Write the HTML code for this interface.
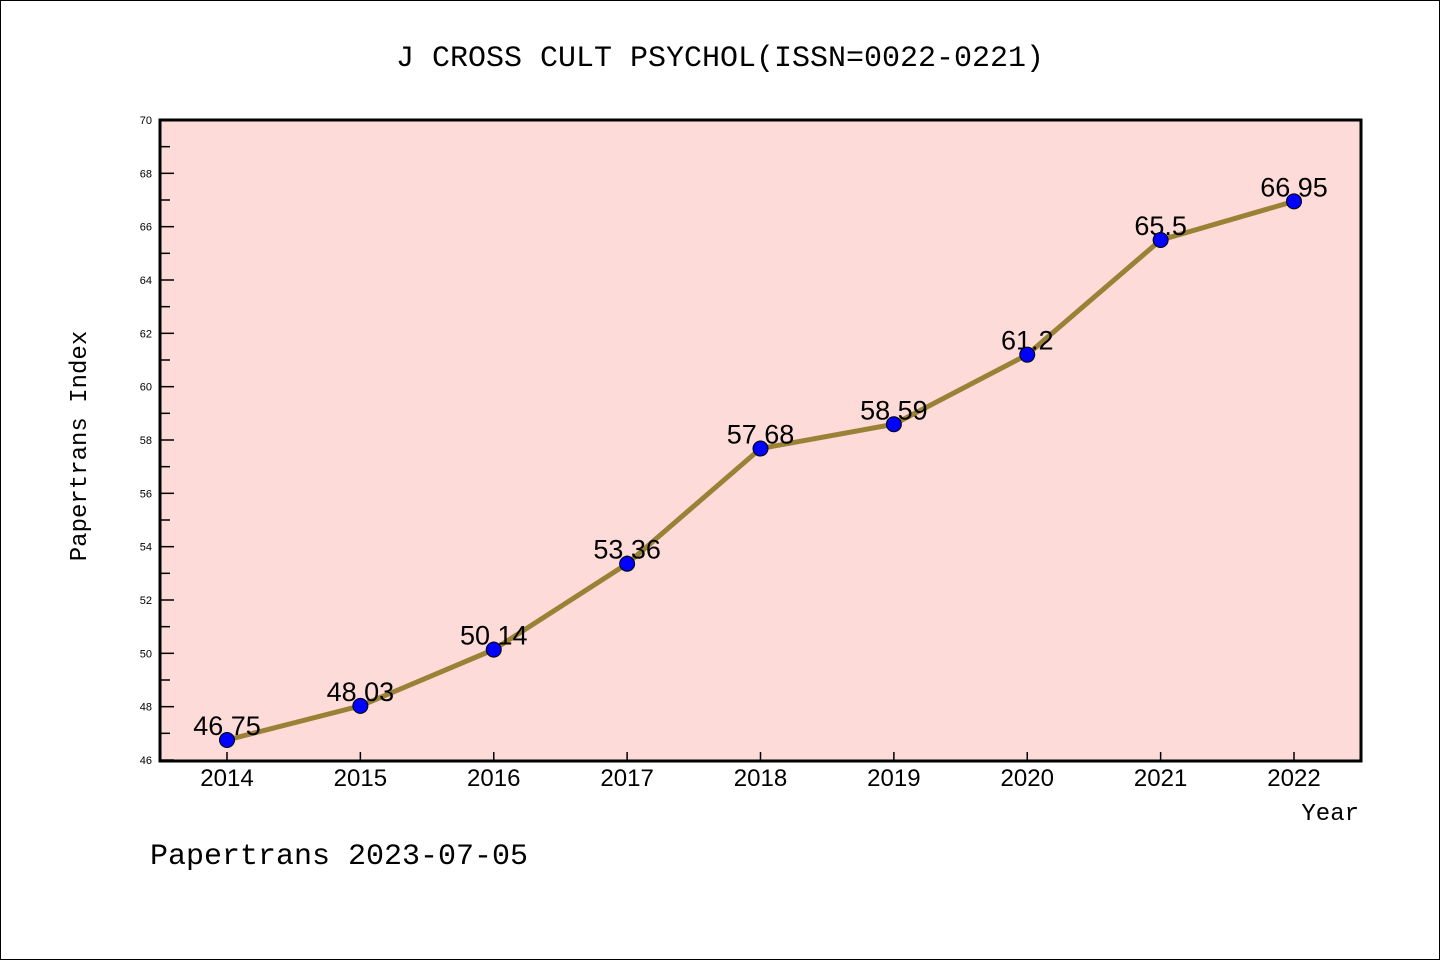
<!DOCTYPE html>
<html><head><meta charset="utf-8"><style>
html,body{margin:0;padding:0;background:#fff}
svg{display:block;font-family:"Liberation Mono","WenQuanYi Zen Hei",monospace}
</style></head><body>
<svg width="1440" height="960" xmlns="http://www.w3.org/2000/svg">
<rect x="0.5" y="0.5" width="1439" height="959" fill="#fff" stroke="#000"/>
<text x="720" y="66" font-size="30" text-anchor="middle">J CROSS CULT PSYCHOL(ISSN=0022-0221)</text>
<rect x="160" y="120" width="1201" height="641" fill="#fddbd8"/>
<g id="axes"></g>
<g id="series"></g>
<rect x="160" y="120" width="1201" height="641" fill="none" stroke="#000" stroke-width="3"/>
<text x="86" y="446" font-size="24" text-anchor="middle" transform="rotate(-90 86 446)">Papertrans Index</text>
<text x="1359" y="820" font-size="24" text-anchor="end">Year</text>
<text x="150" y="864" font-size="30">Papertrans 2023-07-05</text>
</svg>
<script>
const years = ["2014","2015","2016","2017","2018","2019","2020","2021","2022"];
const values = [46.75,48.03,50.14,53.36,57.68,58.59,61.2,65.5,66.95];
const labels = ["46.75","48.03","50.14","53.36","57.68","58.59","61.2","65.5","66.95"];
const yTicks = [46,48,50,52,54,56,58,60,62,64,66,68,70];
const NS="http://www.w3.org/2000/svg";
const x0=227,dx=(1294-227)/8;
function xs(i){return x0+i*dx;}
function ys(v){return 760-(v-46)*(640/24);}
function mk(t,a,p){const e=document.createElementNS(NS,t);for(const k in a)e.setAttribute(k,a[k]);p.appendChild(e);return e;}
const ax=document.getElementById('axes');
for(let v=47;v<70;v+=2){const l=mk('line',{x1:161,x2:170,y1:ys(v),y2:ys(v),stroke:'#000','stroke-width':1.5},ax);

}
yTicks.forEach(v=>{const l=mk('line',{x1:161,x2:174,y1:ys(v),y2:ys(v),stroke:'#000','stroke-width':1.5},ax);


const t=mk('text',{x:152,y:ys(v)+4,'font-size':11,'text-anchor':'end','font-family':'Liberation Sans, sans-serif'},ax);t.textContent=v;

});
years.forEach((y,i)=>{const l=mk('line',{x1:xs(i),x2:xs(i),y1:760,y2:752,stroke:'#000','stroke-width':1.5},ax);


const t=mk('text',{x:xs(i),y:786,'font-size':24,'text-anchor':'middle','font-family':'Liberation Sans, sans-serif'},ax);t.textContent=y;

});
const s=document.getElementById('series');
const pl=mk('polyline',{points:values.map((v,i)=>xs(i)+','+ys(v)).join(' '),fill:'none',stroke:'#998236','stroke-width':5},s);


values.forEach((v,i)=>{const t=mk('text',{x:xs(i),y:ys(v)-5,'font-size':27,'text-anchor':'middle','font-family':'Liberation Sans, sans-serif'},s);t.textContent=labels[i];

});
values.forEach((v,i)=>{const c=mk('circle',{cx:xs(i),cy:ys(v),r:7.5,fill:'#0000ff',stroke:'#000','stroke-width':1},s);

});
</script>
</body></html>
